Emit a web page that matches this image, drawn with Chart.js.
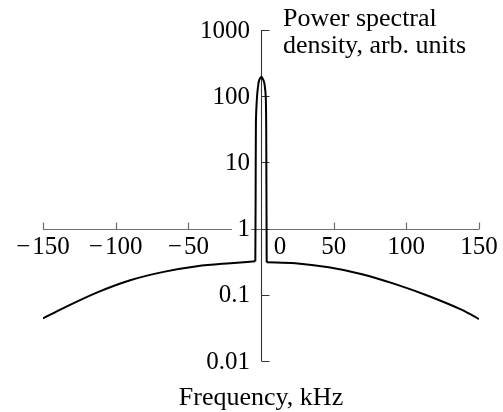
<!DOCTYPE html>
<html>
<head>
<meta charset="utf-8">
<script src="https://cdn.jsdelivr.net/npm/chart.js@4.4.0/dist/chart.umd.min.js"></script>
<style>
    html, body { margin: 0; padding: 0; background: #fff; }
    #wrap { width: 503px; height: 412px; }
</style>
</head>
<body>
<div id="wrap"><canvas id="psdChart" width="503" height="412"></canvas></div>
<script>
// Spectrum (kHz, arb. units)
const freqLeft = [-150, -136, -113, -90, -67, -44, -21, -3.9];
const psdLeft = [0.044, 0.063, 0.108, 0.166, 0.222, 0.27, 0.30, 0.32];
const freqPeak = [-3.9, -3.7, -3.5, -2.8, -1.9, -1.2, 0.2, 1.6, 2.5, 3.3, 3.6, 3.9];
const psdPeak = [0.32, 3, 40, 94, 148, 176, 197, 176, 148, 94, 30, 0.31];
const freqRight = [3.9, 23.6, 46.6, 69.5, 92.4, 115.3, 138.3, 150];
const psdRight = [0.31, 0.30, 0.26, 0.205, 0.145, 0.096, 0.059, 0.043];

const xTicks = [-150, -100, -50, 0, 50, 100, 150];
const yTicks = [1000, 100, 10, 1, 0.1, 0.01];
const yTickLabels = ['1000', '100', '10', '1', '0.1', '0.01'];

const TICK_FONT = '25px "Liberation Serif", "Times New Roman", serif';
const TITLE_FONT = '26px "Liberation Serif", "Times New Roman", serif';

const toPoints = (xs, ys) => xs.map((v, i) => ({ x: v, y: ys[i] }));

// Axes cross at (0, 1), drawn by hand from the chart's scales
const crossAxes = {
    id: 'crossAxes',
    beforeDatasetsDraw(chart) {
        const { ctx, scales: { x, y } } = chart;
        const x0 = x.getPixelForValue(0);
        const y1 = Math.round(y.getPixelForValue(1)) + 0.5;
        ctx.save();

        // horizontal axis, broken around the "1" label
        ctx.strokeStyle = '#6e6e6e';
        ctx.lineWidth = 1.2;
        ctx.beginPath();
        ctx.moveTo(x.left, y1);
        ctx.lineTo(x0 - 29, y1);
        ctx.moveTo(x0 - 10, y1);
        ctx.lineTo(x.right, y1);
        xTicks.forEach(t => {
            if (t === 0) return;
            const px = Math.round(x.getPixelForValue(t)) + 0.5;
            ctx.moveTo(px, y1);
            ctx.lineTo(px, y1 - 7);
        });
        ctx.stroke();

        // vertical axis with ticks to the right
        ctx.strokeStyle = '#333';
        ctx.lineWidth = 1.1;
        ctx.beginPath();
        const ax = Math.round(x0) + 0.5;
        ctx.moveTo(ax, y.top);
        ctx.lineTo(ax, y.bottom);
        yTicks.forEach(t => {
            const py = Math.round(y.getPixelForValue(t)) + 0.5;
            ctx.moveTo(ax, py);
            ctx.lineTo(ax + 8, py);
        });
        ctx.stroke();
        ctx.restore();
    },
    afterDraw(chart) {
        const { ctx, scales: { x, y } } = chart;
        const x0 = x.getPixelForValue(0);
        const y1 = y.getPixelForValue(1);
        ctx.save();
        ctx.fillStyle = '#000';
        ctx.font = TICK_FONT;

        // x tick labels below the axis
        ctx.textAlign = 'center';
        ctx.textBaseline = 'alphabetic';
        xTicks.forEach(t => {
            let px = x.getPixelForValue(t);
            if (t === 0) px += 19;
            const label = t < 0 ? '\u2212\u200A' + Math.abs(t) : String(t);
            ctx.fillText(label, px, y1 + 25);
        });

        // y tick labels left of the axis
        ctx.textAlign = 'right';
        ctx.textBaseline = 'middle';
        yTicks.forEach((t, i) => {
            ctx.fillText(yTickLabels[i], x0 - 11, y.getPixelForValue(t) + 1);
        });

        // axis titles
        ctx.font = TITLE_FONT;
        ctx.textAlign = 'left';
        ctx.textBaseline = 'alphabetic';
        ctx.fillText('Power spectral', x0 + 22, 26);
        ctx.fillText('density, arb. units', x0 + 22, 53);
        ctx.textAlign = 'center';
        ctx.fillText('Frequency, kHz', x0, 405);
        ctx.restore();
    }
};

const lineStyle = {
    showLine: true,
    borderColor: '#000',
    borderWidth: 2,
    pointRadius: 0,
    fill: false
};

new Chart(document.getElementById('psdChart'), {
    type: 'scatter',
    data: {
        datasets: [
            { ...lineStyle, data: toPoints(freqLeft, psdLeft), cubicInterpolationMode: 'monotone' },
            { ...lineStyle, data: toPoints(freqPeak, psdPeak), tension: 0.15 },
            { ...lineStyle, data: toPoints(freqRight, psdRight), cubicInterpolationMode: 'monotone' }
        ]
    },
    options: {
        responsive: false,
        animation: false,
        layout: { padding: { left: 43, right: 24, top: 30, bottom: 51 } },
        scales: {
            x: { type: 'linear', min: -150, max: 150, display: false },
            y: { type: 'logarithmic', min: 0.01, max: 1000, display: false }
        },
        plugins: {
            legend: { display: false },
            tooltip: { enabled: false }
        }
    },
    plugins: [crossAxes]
});
</script>
</body>
</html>
